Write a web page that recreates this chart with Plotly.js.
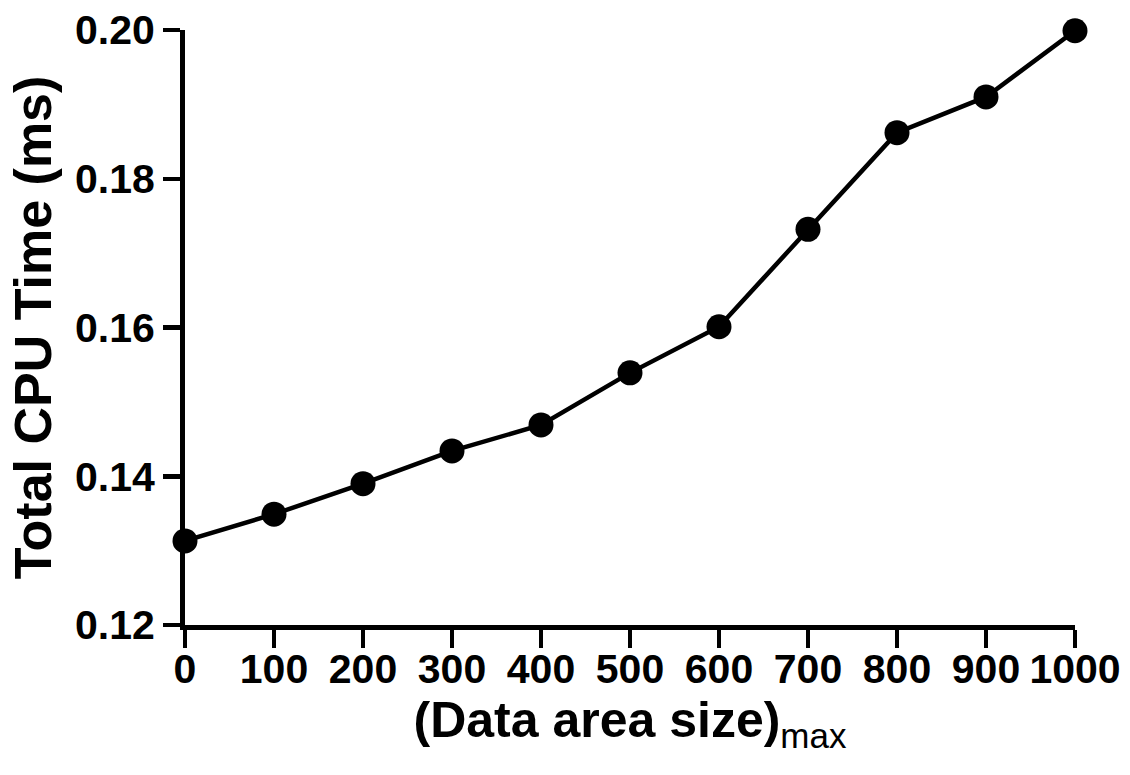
<!DOCTYPE html>
<html>
<head>
<meta charset="utf-8">
<script src="https://cdn.plot.ly/plotly-3.0.1.min.js"></script>
<style>html,body{margin:0;padding:0;background:#fff;}#chart{width:1130px;height:775px;}</style>
</head>
<body>
<div id="chart"></div>
<script>
var dataAreaSize = [0, 100, 200, 300, 400, 500, 600, 700, 800, 900, 1000];
var cpuTimeMs = [0.1313, 0.1349, 0.1390, 0.1434, 0.1469, 0.1539, 0.1601, 0.1732, 0.1862, 0.1910, 0.1999];
var xTickVals = [0, 100, 200, 300, 400, 500, 600, 700, 800, 900, 1000];
var yTickVals = [0.12, 0.14, 0.16, 0.18, 0.20];
var xTitle = "(Data area size)<sub><span style=\"font-weight:normal\">max</span></sub>";
var yTitle = "Total CPU Time (ms)";

var font = "Liberation Sans, Arial, sans-serif";
var trace = {
  x: dataAreaSize, y: cpuTimeMs, type: "scatter", mode: "lines+markers",
  line: {color: "#000", width: 4.5},
  marker: {color: "#000", size: 25},
  cliponaxis: false, hoverinfo: "skip"
};
var layout = {
  width: 1130, height: 775,
  margin: {l: 185, r: 55, t: 30, b: 150},
  paper_bgcolor: "#fff", plot_bgcolor: "#fff",
  showlegend: false,
  font: {family: font, color: "#000"},
  xaxis: {
    range: [0, 1000], tickvals: xTickVals, ticktext: xTickVals.map(String),
    showgrid: false, zeroline: false, showline: true, linecolor: "#000", linewidth: 5,
    ticks: "outside", ticklen: 18, tickwidth: 4.5, tickcolor: "#000", ticklabelstandoff: -14,
    tickfont: {family: font, size: 41, color: "#000", weight: "bold"},
    title: {text: xTitle, font: {family: font, size: 50, color: "#000", weight: "bold"}, standoff: 3}
  },
  yaxis: {
    range: [0.12, 0.20], tickvals: yTickVals, tickformat: ".2f",
    showgrid: false, zeroline: false, showline: true, linecolor: "#000", linewidth: 5,
    ticks: "outside", ticklen: 17, tickwidth: 4.5, tickcolor: "#000",
    tickfont: {family: font, size: 41, color: "#000", weight: "bold"},
    title: {text: yTitle, font: {family: font, size: 52, color: "#000", weight: "bold"}, standoff: 8}
  }
};
Plotly.newPlot("chart", [trace], layout, {displayModeBar: false, staticPlot: true});
</script>
</body>
</html>
